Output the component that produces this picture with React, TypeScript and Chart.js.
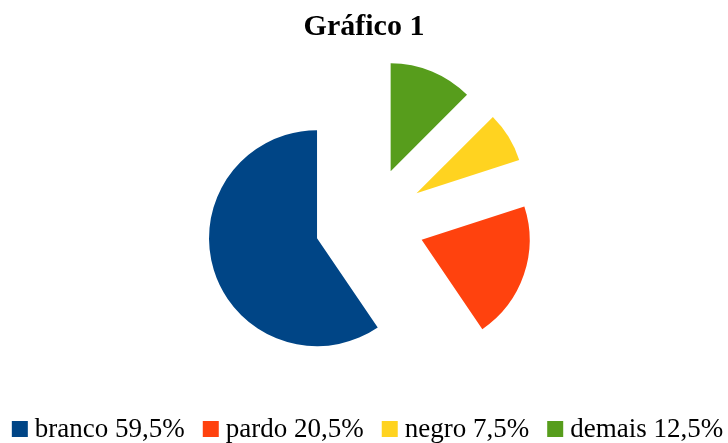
import React, { useEffect, useRef } from "react";
import { Chart, registerables } from "chart.js";

Chart.register(...registerables);

// ---- data (legend order) ----
const categories = ["branco", "pardo", "negro", "demais"];
const shares = [59.5, 20.5, 7.5, 12.5];
const sliceColors = ["#004586", "#ff420e", "#ffd320", "#579d1c"];
const chartTitle = "Gráfico 1";

// ---- layout constants ----
const WIDTH = 728;
const HEIGHT = 443;
const FONT_FAMILY = "'Liberation Serif', 'Times New Roman', serif";
const EXPLODE = 55;
const PIE_RADIUS = 108;
const CENTER_SHIFT_X = 5.6;
const LEGEND_FONT_SIZE = 27;
const LEGEND_BOX = 16;
const LEGEND_GAP = 7;
const LEGEND_SPACING = 18;
const LEGEND_BASELINE = 437;
const LEGEND_CENTER_X = 367.5;

const fmt = (v: number) => v.toFixed(1).replace(".", ",") + "%";

// shift pie center horizontally without moving the title
const centerShiftPlugin = {
  id: "centerShift",
  afterLayout(chart: any) {
    chart.chartArea.left += CENTER_SHIFT_X;
    chart.chartArea.right += CENTER_SHIFT_X;
  },
};

// explode every slice outward along its own mid-angle (keeps radius and angles intact)
const explodePlugin = {
  id: "explode",
  afterDatasetsUpdate(chart: any) {
    const meta = chart.getDatasetMeta(0);
    meta.data.forEach((arc: any) => {
      const mid = (arc.startAngle + arc.endAngle) / 2;
      arc.x += Math.cos(mid) * EXPLODE;
      arc.y += Math.sin(mid) * EXPLODE;
    });
  },
};

// bottom legend, drawn in the original (legend) order
const bottomLegendPlugin = {
  id: "bottomLegend",
  afterDraw(chart: any) {
    const ctx = chart.ctx as CanvasRenderingContext2D;
    ctx.save();
    ctx.font = `${LEGEND_FONT_SIZE}px ${FONT_FAMILY}`;
    ctx.textBaseline = "alphabetic";
    ctx.textAlign = "left";
    const texts = categories.map((c, i) => `${c} ${fmt(shares[i])}`);
    const widths = texts.map((t) => ctx.measureText(t).width);
    const total =
      widths.reduce((a, w) => a + LEGEND_BOX + LEGEND_GAP + w, 0) +
      LEGEND_SPACING * (texts.length - 1);
    let x = LEGEND_CENTER_X - total / 2;
    texts.forEach((t, i) => {
      ctx.fillStyle = sliceColors[i];
      ctx.fillRect(x, LEGEND_BASELINE - LEGEND_BOX, LEGEND_BOX, LEGEND_BOX);
      x += LEGEND_BOX + LEGEND_GAP;
      ctx.fillStyle = "#000";
      ctx.fillText(t, x, LEGEND_BASELINE);
      x += widths[i] + LEGEND_SPACING;
    });
    ctx.restore();
  },
};

export default function App() {
  const ref = useRef<HTMLCanvasElement | null>(null);

  useEffect(() => {
    if (!ref.current) return;
    // Chart.js goes clockwise; the reference goes counter-clockwise, so reverse.
    const order = categories.map((_, i) => categories.length - 1 - i);
    const chart = new Chart(ref.current, {
      type: "pie",
      data: {
        labels: order.map((i) => categories[i]),
        datasets: [
          {
            data: order.map((i) => shares[i]),
            backgroundColor: order.map((i) => sliceColors[i]),
            borderWidth: 0,
            offset: 0,
            hoverOffset: 0,
          },
        ],
      },
      options: {
        responsive: false,
        animation: false,
        radius: PIE_RADIUS,
        rotation: 0,
        layout: { padding: { top: 0, bottom: 54, left: 0, right: 0 } },
        plugins: {
          legend: { display: false },
          tooltip: { enabled: false },
          title: {
            display: true,
            text: chartTitle,
            color: "#000",
            font: { family: FONT_FAMILY, size: 30, weight: "bold" },
            padding: { top: 9, bottom: 10 },
          },
        },
      } as any,
      plugins: [centerShiftPlugin, explodePlugin, bottomLegendPlugin],
    });
    return () => chart.destroy();
  }, []);

  return (
    <div
      style={{
        position: "absolute",
        left: 0,
        top: 0,
        width: WIDTH,
        height: HEIGHT,
        background: "#fff",
      }}
    >
      <canvas ref={ref} width={WIDTH} height={HEIGHT} />
    </div>
  );
}
